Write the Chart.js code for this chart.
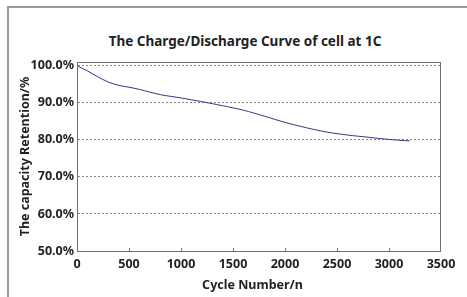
<!DOCTYPE html>
<html>
<head>
<meta charset="utf-8">
<script src="https://cdn.jsdelivr.net/npm/chart.js@4/dist/chart.umd.min.js"></script>
<style>
    body { margin: 0; background: #fff; }
    #wrap { position: relative; width: 467px; height: 297px; overflow: hidden; }
    #frame { position: absolute; left: 7px; top: 6px; width: 480px; height: 320px; border-top: 2px solid #9a9a9a; border-left: 2px solid #9a9a9a; }
    #title { position: absolute; left: 0; width: 490px; top: 32px; text-align: center; font: bold 13.5px "Noto Sans"; color: #222; }
    canvas { position: absolute; left: 0; top: 0; }
</style>
</head>
<body>
<div id="wrap">
    <div id="frame"></div>
    <div id="title">The Charge/Discharge Curve of cell at 1C</div>
    <canvas id="myChart" width="467" height="297"></canvas>
</div>
<script>
const cycles = [0, 100, 200, 300, 400, 500, 600, 800, 1000, 1200, 1400, 1600, 1800, 2000, 2200, 2400, 2600, 2800, 3000, 3200];
const retention = [100, 98.6, 97.0, 95.6, 94.7, 94.2, 93.6, 92.2, 91.3, 90.3, 89.2, 88.0, 86.4, 84.7, 83.3, 82.1, 81.3, 80.7, 80.1, 79.7];
const yTicks = [50, 60, 70, 80, 90, 100];
const xTicks = [0, 500, 1000, 1500, 2000, 2500, 3000, 3500];

// rahmen um die plotfläche + kleine ticks nach innen
const plotFrame = {
    id: 'plotFrame',
    afterDraw(chart) {
        const ctx = chart.ctx;
        const a = chart.chartArea;
        const xs = chart.scales.x;
        ctx.save();
        ctx.strokeStyle = '#707070';
        ctx.lineWidth = 1;
        ctx.strokeRect(a.left + 0.5, a.top + 0.5, a.right - a.left - 1, a.bottom - a.top);
        ctx.beginPath();
        xTicks.slice(1, -1).forEach(v => {
            const px = Math.round(xs.getPixelForValue(v)) + 0.5;
            ctx.moveTo(px, a.bottom);
            ctx.lineTo(px, a.bottom - 3);
        });
        ctx.stroke();
        ctx.restore();
    }
};

const canvas = document.getElementById('myChart').getContext('2d');
const myChart = new Chart(canvas, {
    type: 'line',
    data: {
        datasets: [{
            data: cycles.map((c, i) => ({x: c, y: retention[i]})),
            borderColor: '#34348a',
            borderWidth: 1,
            pointRadius: 0,
            tension: 0.3,
            fill: false
        }]
    },
    options: {
        responsive: false,
        animation: false,
        devicePixelRatio: 1,
        layout: { padding: { top: 62, right: 26, left: 0, bottom: 0 } },
        plugins: { legend: { display: false }, tooltip: { enabled: false } },
        scales: {
            x: {
                type: 'linear',
                min: 0,
                max: 3500,
                afterBuildTicks: axis => { axis.ticks = xTicks.map(v => ({value: v})); },
                afterFit: scale => { scale.height = 46; },
                grid: { display: false, drawTicks: false },
                border: { display: false },
                ticks: { padding: 6, color: '#222', font: { family: 'Noto Sans', size: 12.5, weight: 'bold' }, callback: v => String(v) },
                title: { display: true, text: 'Cycle Number/n    ', color: '#222', padding: { top: 0, bottom: 4 }, font: { family: 'Noto Sans', size: 12.5, weight: 'bold' } }
            },
            y: {
                min: 50,
                max: 101,
                afterBuildTicks: axis => { axis.ticks = yTicks.map(v => ({value: v})); },
                afterFit: scale => { scale.width = 77; },
                grid: {
                    drawTicks: false,
                    color: ctx => ctx.tick && ctx.tick.value > 50 ? '#888' : 'rgba(0,0,0,0)',
                    lineWidth: 1
                },
                border: { display: true, color: 'rgba(0,0,0,0)', dash: [2, 2] },
                ticks: { padding: 3, color: '#222', font: { family: 'Noto Sans', size: 12.5, weight: 'bold' }, callback: v => v.toFixed(1) + '%' },
                title: { display: true, text: 'The capacity Retention/%', color: '#222', padding: { top: 18, bottom: 0 }, font: { family: 'Noto Sans', size: 12.5, weight: 'bold' } }
            }
        }
    },
    plugins: [plotFrame]
});
</script>
</body>
</html>
